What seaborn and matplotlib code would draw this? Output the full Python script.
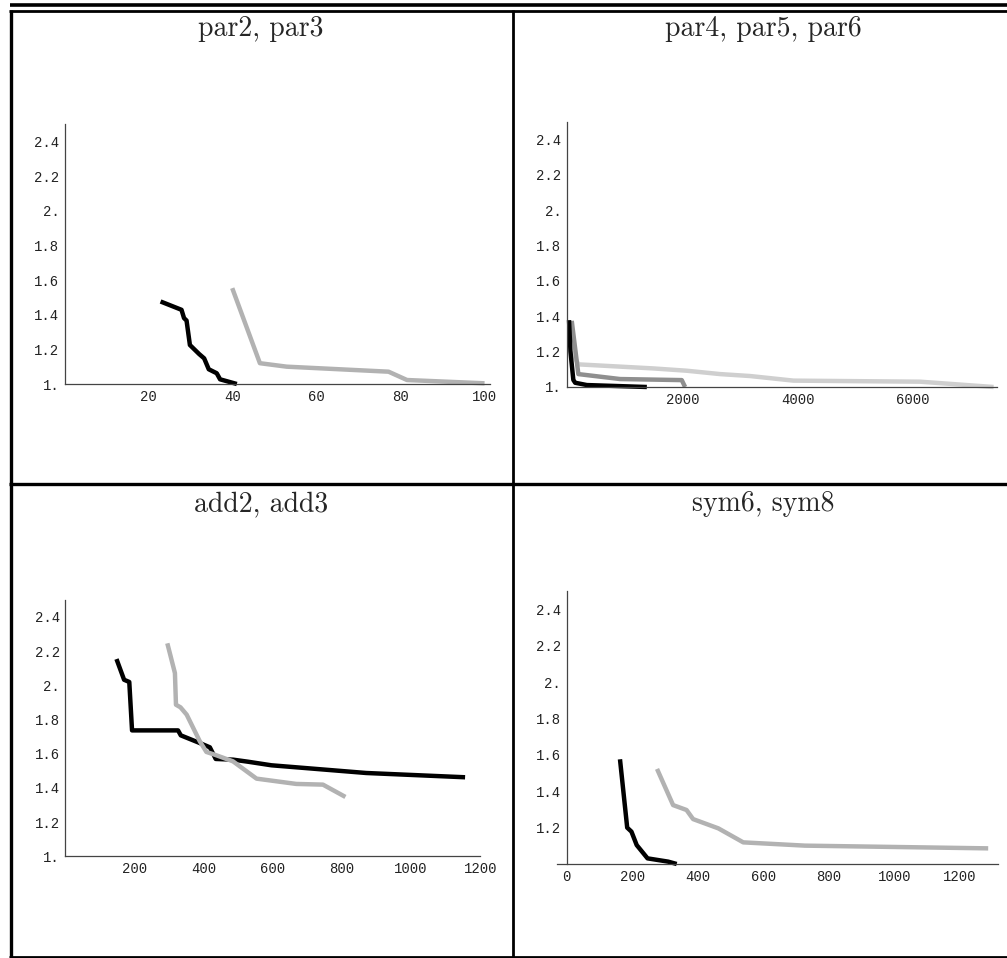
import matplotlib
matplotlib.use("Agg")
import matplotlib.pyplot as plt
from matplotlib.lines import Line2D
import pandas as pd
import seaborn as sns

W, H = 1007, 958

# values
par2_x = [22.8, 27.8, 28.4, 29.0, 29.8, 32.0, 33.2, 34.3, 36.2, 37.0, 41.0]
par2_y = [1.476, 1.428, 1.38, 1.366, 1.225, 1.173, 1.148, 1.085, 1.062, 1.027, 1.0]
par3_x = [39.9, 46.5, 52.9, 77.2, 81.6, 100.1]
par3_y = [1.553, 1.12, 1.10, 1.071, 1.023, 1.004]

par4_x = [35, 60, 110, 142, 344, 1385]
par4_y = [1.378, 1.2, 1.04, 1.024, 1.011, 1.0]
par5_x = [82, 197, 920, 1991, 2049]
par5_y = [1.374, 1.073, 1.045, 1.039, 1.0]
par6_x = [82, 197, 1498, 2078, 2656, 3177, 3929, 6128, 7401]
par6_y = [1.199, 1.128, 1.105, 1.092, 1.073, 1.062, 1.036, 1.03, 1.0]

add2_x = [148, 170, 185, 193, 326, 334, 389, 418, 435, 485, 528, 596, 870, 1156]
add2_y = [2.153, 2.032, 2.019, 1.736, 1.736, 1.707, 1.662, 1.637, 1.569, 1.565,
          1.553, 1.532, 1.487, 1.462]
add3_x = [295, 317, 320, 333, 351, 389, 408, 432, 485, 553, 668, 745, 810]
add3_y = [2.245, 2.071, 1.886, 1.871, 1.828, 1.672, 1.61, 1.594, 1.555, 1.454,
          1.423, 1.419, 1.347]

sym6_x = [163, 185, 198, 214, 224, 247, 310, 336]
sym6_y = [1.576, 1.2, 1.178, 1.104, 1.082, 1.031, 1.013, 1.0]
sym8_x = [276, 325, 366, 386, 463, 539, 727, 1286]
sym8_y = [1.523, 1.324, 1.297, 1.247, 1.196, 1.119, 1.101, 1.086]

titles = ["par2, par3", "par4, par5, par6", "add2, add3", "sym6, sym8"]

y_ticks = [1.0, 1.2, 1.4, 1.6, 1.8, 2.0, 2.2, 2.4]
y_labels = ["1.", "1.2", "1.4", "1.6", "1.8", "2.", "2.2", "2.4"]
x_ticks_par23 = [20, 40, 60, 80, 100]
x_ticks_par456 = [2000, 4000, 6000]
x_ticks_add = [200, 400, 600, 800, 1000, 1200]
x_ticks_sym = [0, 200, 400, 600, 800, 1000, 1200]

BLACK, GRAY, MID, LIGHT = "#000000", "#b2b2b2", "#8f8f8f", "#cfcfcf"

sns.set_style("white")
plt.rcParams["font.family"] = ["Liberation Mono", "DejaVu Sans Mono"]


def make_df(pairs):
    rows = []
    for name, xs, ys in pairs:
        rows += [{"series": name, "x": a, "y": b} for a, b in zip(xs, ys)]
    return pd.DataFrame(rows)


def px_rect(left, top, right, bottom):
    return [left / W, 1 - bottom / H, (right - left) / W, (bottom - top) / H]


def panel(fig, rect, pairs, colors, xlim, xticks, yticks, ylabels, spine_at_zero=False):
    ax = fig.add_axes(px_rect(*rect))
    df = make_df(pairs)
    names = [p[0] for p in pairs]
    sns.lineplot(data=df, x="x", y="y", hue="series", hue_order=names,
                 palette=dict(zip(names, colors)), sort=False, estimator=None,
                 legend=False, linewidth=3.2, ax=ax)
    for ln in ax.lines:
        ln.set_clip_on(False)
        ln.set_solid_capstyle("butt")
        ln.set_solid_joinstyle("round")
    ax.set_xlim(*xlim)
    ax.set_ylim(1.0, 2.5)
    ax.set_xticks(xticks, [str(t) for t in xticks])
    ax.set_yticks(yticks, ylabels)
    ax.set_xlabel("")
    ax.set_ylabel("")
    for s in ["top", "right"]:
        ax.spines[s].set_visible(False)
    for s in ["left", "bottom"]:
        ax.spines[s].set_color("#444444")
        ax.spines[s].set_linewidth(0.9)
    if spine_at_zero:
        ax.spines["left"].set_position(("data", 0))
    ax.tick_params(direction="in", length=3, width=0.8, color="#444444",
                   labelsize=10, labelcolor="#222222", pad=4)
    ax.patch.set_alpha(0)
    return ax


fig = plt.figure(figsize=(W / 100, H / 100), dpi=100)

panel(fig, (65, 124, 490, 384),
      [("par2", par2_x, par2_y), ("par3", par3_x, par3_y)],
      [BLACK, GRAY], (0, 101.4), x_ticks_par23, y_ticks, y_labels)

panel(fig, (567, 121.7, 997, 387),
      [("par6", par6_x, par6_y), ("par5", par5_x, par5_y), ("par4", par4_x, par4_y)],
      [LIGHT, MID, BLACK], (0, 7460), x_ticks_par456, y_ticks, y_labels)

panel(fig, (65.3, 599.7, 480.3, 856.3),
      [("add2", add2_x, add2_y), ("add3", add3_x, add3_y)],
      [BLACK, GRAY], (0, 1200), x_ticks_add, y_ticks, y_labels)

panel(fig, (556.7, 591.3, 997.7, 864),
      [("sym6", sym6_x, sym6_y), ("sym8", sym8_x, sym8_y)],
      [BLACK, GRAY], (-30, 1315), x_ticks_sym, y_ticks[1:], y_labels[1:],
      spine_at_zero=True)

# titles
for (cx, by), t in zip([(261, 36), (763, 36), (261, 511), (763, 511)], titles):
    fig.text(cx / W, 1 - by / H, t, ha="center", va="baseline",
             fontsize=20, family="cmr10")

# table rules
def rule(x0, y0, x1, y1, lw):
    fig.add_artist(Line2D([x0 / W, x1 / W], [1 - y0 / H, 1 - y1 / H],
                          color="black", linewidth=lw, solid_capstyle="butt"))

rule(10, 4.5, 1007, 4.5, 2.6)
rule(9, 11, 1007, 11, 2.0)
rule(10.5, 10, 10.5, 958, 2.4)
rule(513, 10, 513, 958, 2.0)
rule(9, 484.5, 1007, 484.5, 2.4)
rule(9, 957, 1007, 957, 2.0)

fig.savefig("out.png", dpi=100)
